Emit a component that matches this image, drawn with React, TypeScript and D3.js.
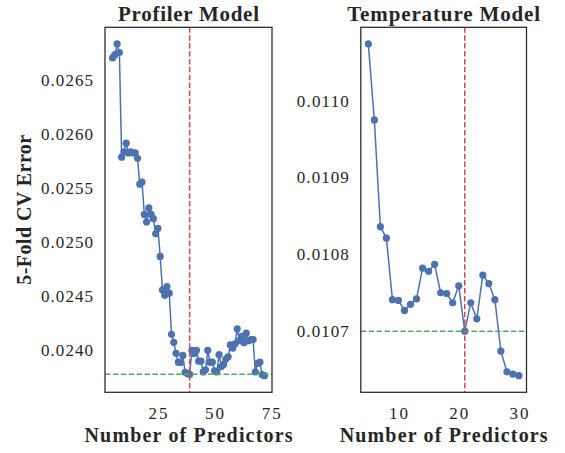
import React from "react";
import * as d3 from "d3";

// ---------- Data ----------
const profilerX: number[] = d3.range(5, 73);
const profilerY: number[] = [
  0.02671, 0.02674, 0.02684, 0.02676, // 5-8
  0.02579, 0.02584, 0.02592, 0.02583, 0.02584, 0.02583, 0.02583, 0.02578, // 9-16
  0.02554, 0.02556, 0.02526, 0.02519, 0.02532, 0.02526, 0.02522, 0.02508, // 17-24
  0.02513, 0.02487, 0.02456, 0.02451, 0.02459, 0.02453, // 25-30
  0.024149, 0.024074, 0.023972, 0.02389, 0.023888, 0.023953, 0.023796, 0.023786, 0.023777, // 31-39
  0.024, 0.02397, 0.024, 0.0239, 0.0239, 0.0238, 0.02382, 0.024, 0.02389, 0.02389, // 40-49
  0.02381, 0.0238, 0.02396, 0.02385, 0.02387, 0.02392, 0.02394, 0.02405, 0.02402, 0.02406, // 50-59
  0.0242, 0.02409, 0.02413, 0.02407, 0.02416, 0.02409, 0.0241, 0.0241, // 60-67
  0.0238, 0.02388, 0.02389, 0.023775, 0.023765, // 68-72
];
const profilerBest = 39;
const profilerThreshold = 0.023778;
const profilerXTicks = [25, 50, 75];
const profilerYTicks = [0.024, 0.0245, 0.025, 0.0255, 0.026, 0.0265];

const tempX: number[] = d3.range(5, 31);
const tempY: number[] = [
  0.011074, 0.010975, 0.010836, 0.010821, 0.010741, 0.01074, 0.010727, 0.010735,
  0.010742, 0.010782, 0.010778, 0.010787, 0.01075, 0.010749, 0.010737, 0.010759,
  0.0107, 0.010737, 0.010716, 0.010773, 0.010762, 0.010741, 0.010674, 0.010647,
  0.010644, 0.010642,
];
const tempBest = 21;
const tempThreshold = 0.0107;
const tempXTicks = [10, 20, 30];
const tempYTicks = [0.0107, 0.0108, 0.0109, 0.011];

const titles = ["Profiler Model", "Temperature Model"];
const xLabel = "Number of Predictors";
const yLabel = "5-Fold CV Error";

// ---------- Style ----------
const BLUE = "#4c72b0";
const RED = "#c44e52";
const GREEN = "#55a868";
const DARK = "#262626";
const FONT = "'Liberation Serif', 'Times New Roman', serif";

function padDomain(vals: number[]): [number, number] {
  const [a, b] = d3.extent(vals) as [number, number];
  const m = (b - a) * 0.05;
  return [a - m, b + m];
}

type PanelProps = {
  xs: number[];
  ys: number[];
  best: number;
  threshold: number;
  xTicks: number[];
  yTicks: number[];
  title: string;
  titleLen: number;
  left: number;
  right: number;
  top: number;
  bottom: number;
};

function Panel(p: PanelProps) {
  const x = d3.scaleLinear().domain(padDomain(p.xs)).range([p.left, p.right]);
  const y = d3.scaleLinear().domain(padDomain(p.ys)).range([p.bottom, p.top]);
  const pts: [number, number][] = p.xs.map((v, i) => [v, p.ys[i]]);
  const line = d3
    .line<[number, number]>()
    .x((d) => x(d[0]))
    .y((d) => y(d[1]));
  const fmt = d3.format(".4f");
  const cx = (p.left + p.right) / 2;
  return (
    <g>
      <path d={line(pts) || ""} fill="none" stroke={BLUE} strokeWidth={1.5} />
      {pts.map((d, i) => (
        <circle key={i} cx={x(d[0])} cy={y(d[1])} r={3.6} fill={BLUE} />
      ))}
      <line
        x1={x(p.best)}
        x2={x(p.best)}
        y1={p.top}
        y2={p.bottom}
        stroke={RED}
        strokeWidth={1.5}
        strokeDasharray="5.5,2.4"
      />
      <line
        x1={p.left}
        x2={p.right}
        y1={y(p.threshold)}
        y2={y(p.threshold)}
        stroke={GREEN}
        strokeWidth={1.5}
        strokeDasharray="5.5,2.4"
      />
      <rect
        x={p.left}
        y={p.top}
        width={p.right - p.left}
        height={p.bottom - p.top}
        fill="none"
        stroke={DARK}
        strokeWidth={1.25}
      />
      {p.yTicks.map((t) => (
        <text
          key={"y" + t}
          x={p.left - 12}
          y={y(t)}
          dy="0.34em"
          textAnchor="end"
          fontFamily={FONT}
          fontSize={17}
          fill={DARK}
          textLength={52}
          lengthAdjust="spacing"
        >
          {fmt(t)}
        </text>
      ))}
      {p.xTicks.map((t) => (
        <text
          key={"x" + t}
          x={x(t)}
          y={418.5}
          textAnchor="middle"
          fontFamily={FONT}
          fontSize={17}
          fill={DARK}
          textLength={19}
          lengthAdjust="spacing"
        >
          {t}
        </text>
      ))}
      <text
        x={cx}
        y={20.5}
        textAnchor="middle"
        fontFamily={FONT}
        fontWeight="bold"
        fontSize={21}
        fill={DARK}
        textLength={p.titleLen}
        lengthAdjust="spacing"
      >
        {p.title}
      </text>
      <text
        x={cx}
        y={442}
        textAnchor="middle"
        fontFamily={FONT}
        fontWeight="bold"
        fontSize={20}
        fill={DARK}
        textLength={208}
        lengthAdjust="spacing"
      >
        {xLabel}
      </text>
    </g>
  );
}

export default function App() {
  return (
    <svg
      width={565}
      height={453}
      style={{ position: "absolute", left: 0, top: 0, background: "#fff" }}
    >
      <rect width={565} height={453} fill="#fff" />
      <Panel
        xs={profilerX}
        ys={profilerY}
        best={profilerBest}
        threshold={profilerThreshold}
        xTicks={profilerXTicks}
        yTicks={profilerYTicks}
        title={titles[0]}
        titleLen={141}
        left={105}
        right={272}
        top={27.3}
        bottom={392.3}
      />
      <Panel
        xs={tempX}
        ys={tempY}
        best={tempBest}
        threshold={tempThreshold}
        xTicks={tempXTicks}
        yTicks={tempYTicks}
        title={titles[1]}
        titleLen={193}
        left={360.8}
        right={526.5}
        top={27.3}
        bottom={392.3}
      />
      <text
        transform={`translate(31,209.8) rotate(-90)`}
        textAnchor="middle"
        fontFamily={FONT}
        fontWeight="bold"
        fontSize={20}
        fill={DARK}
        textLength={150}
        lengthAdjust="spacing"
      >
        {yLabel}
      </text>
    </svg>
  );
}
